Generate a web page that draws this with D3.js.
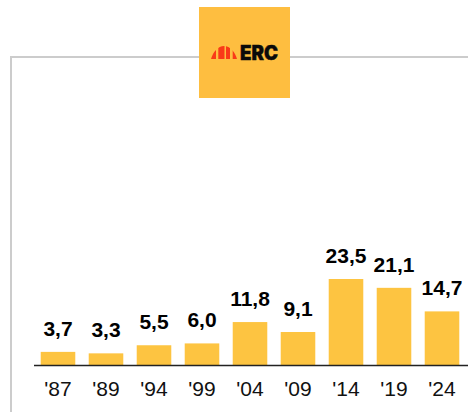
<!DOCTYPE html>
<html>
<head>
<meta charset="utf-8">
<style>html,body{margin:0;padding:0;background:#fff}svg{display:block}</style>
<script src="https://cdn.jsdelivr.net/npm/d3@7"></script>
</head>
<body>
<svg id="c" width="468" height="412"></svg>
<script>
const categories = ["'87","'89","'94","'99","'04","'09","'14","'19","'24"];
const valueLabels = ["3,7","3,3","5,5","6,0","11,8","9,1","23,5","21,1","14,7"];
const values = [3.7,3.3,5.5,6.0,11.8,9.1,23.5,21.1,14.7];
const barColor = "#fdc441";
const logoColor = "#febe40";

const svg = d3.select("#c");
const font = "'Liberation Sans', Arial, sans-serif";

// frame
svg.append("path").attr("d","M11,412V57H468").attr("fill","none").attr("stroke","#cccccc").attr("stroke-width",2);

const x = d3.scaleBand().domain(categories).range([34,466]).paddingInner(0.28).paddingOuter(0.14);
const y = d3.scaleLinear().domain([0,23.5]).range([365.5,279]);

svg.selectAll("rect.bar").data(values).join("rect").attr("class","bar")
  .attr("x",(d,i)=>x(categories[i])).attr("width",x.bandwidth())
  .attr("y",d=>y(d)).attr("height",d=>y(0)-y(d)).attr("fill",barColor);

svg.selectAll("text.val").data(values).join("text").attr("class","val")
  .attr("x",(d,i)=>x(categories[i])+x.bandwidth()/2).attr("y",d=>y(d)-16)
  .attr("text-anchor","middle").attr("font-family",font).attr("font-weight",700)
  .attr("font-size",21).attr("fill","#000").text((d,i)=>valueLabels[i]);

const axis = d3.axisBottom(x).tickSize(0).tickPadding(16);
const g = svg.append("g").attr("transform","translate(0,365.5)").call(axis);
g.select(".domain").attr("stroke","#222").attr("stroke-width",1.5).attr("d","M34,0H468");
g.selectAll("text").attr("font-family",font).attr("font-size",21).attr("fill","#111");

// logo
const logo = svg.append("g");
logo.append("rect").attr("x",199).attr("y",7).attr("width",91).attr("height",91).attr("fill",logoColor);
const clip = svg.append("clipPath").attr("id","dome");
clip.append("path").attr("d","M211,59 C213,52 218,46 224,46 C230,46 235,52 237,59Z");
const arcs = logo.append("g").attr("clip-path","url(#dome)");
[[211,5],[218.3,6.2],[226,4],[232.7,4.3]].forEach(([a,w])=>{
  arcs.append("rect").attr("x",a).attr("y",45).attr("width",w).attr("height",15).attr("fill","#f93a18");
});
logo.append("text").attr("x",240).attr("y",59.5).attr("font-family","Inter, sans-serif").attr("font-weight",900)
  .attr("font-size",19.5).attr("textLength",38).attr("lengthAdjust","spacingAndGlyphs").attr("stroke","#0a0a0a").attr("stroke-width",0.4).attr("fill","#0a0a0a").text("ERC");
</script>
</body>
</html>
